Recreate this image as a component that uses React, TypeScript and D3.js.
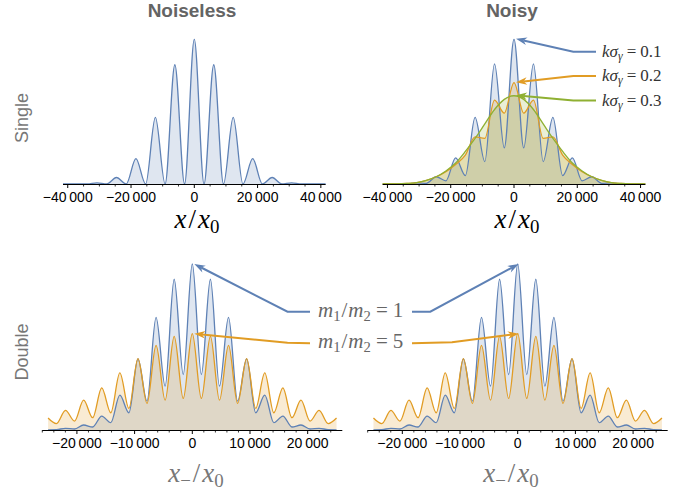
import * as d3 from 'd3';

const BLUE = '#5E81B5';
const ORANGE = '#E19C24';
const GREEN = '#8FB032';

// single-particle pattern: sampled at bright and dark fringes
const singleX = [
  -41500, -36900, -33825, -30750, -27675, -24600, -21525, -18450, -15375, -12300, -9225, -6150, -3075,
  0, 3075, 6150, 9225, 12300, 15375, 18450, 21525, 24600, 27675, 30750, 33825, 36900, 41500,
];
const noiseless = [
  0, 0.001, 0, 0.008, 0, 0.045, 0, 0.175, 0, 0.46, 0, 0.824, 0,
  1, 0, 0.824, 0, 0.46, 0, 0.175, 0, 0.045, 0, 0.008, 0, 0.001, 0,
];
const noisy01 = [
  0, 0.001, 0.001, 0.008, 0.005, 0.05, 0.022, 0.18, 0.058, 0.46, 0.155, 0.83, 0.25,
  1, 0.25, 0.83, 0.155, 0.46, 0.058, 0.18, 0.022, 0.05, 0.005, 0.008, 0.001, 0.001, 0,
];
const noisy02 = [
  0, 0.001, 0.004, 0.01, 0.025, 0.05, 0.085, 0.135, 0.2, 0.325, 0.315, 0.58, 0.49,
  0.7, 0.49, 0.58, 0.315, 0.325, 0.2, 0.135, 0.085, 0.05, 0.025, 0.01, 0.004, 0.001, 0,
];
const noisy03 = [
  0, 0.001, 0.004, 0.01, 0.025, 0.05, 0.09, 0.145, 0.225, 0.315, 0.415, 0.515, 0.585,
  0.61, 0.585, 0.515, 0.415, 0.315, 0.225, 0.145, 0.09, 0.05, 0.025, 0.01, 0.004, 0.001, 0,
];

// two-particle pattern
const doubleX = [
  -25000, -23550, -21980, -20410, -18840, -17270, -15700, -14130, -12560, -10990, -9420, -7850, -6280, -4710, -3140, -1570,
  0, 1570, 3140, 4710, 6280, 7850, 9420, 10990, 12560, 14130, 15700, 17270, 18840, 20410, 21980, 23550, 25000,
];
const ratio1 = [
  0.001, 0.002, 0.01, 0.006, 0.03, 0.018, 0.084, 0.044, 0.21, 0.104, 0.428, 0.174, 0.678, 0.264, 0.908, 0.334,
  1, 0.334, 0.908, 0.264, 0.678, 0.174, 0.428, 0.104, 0.21, 0.044, 0.084, 0.018, 0.03, 0.006, 0.01, 0.002, 0.001,
];
const ratio5 = [
  0.072, 0.038, 0.118, 0.054, 0.18, 0.074, 0.254, 0.104, 0.344, 0.13, 0.43, 0.16, 0.51, 0.18, 0.564, 0.19,
  0.58, 0.19, 0.564, 0.18, 0.51, 0.16, 0.43, 0.13, 0.344, 0.104, 0.254, 0.074, 0.18, 0.054, 0.118, 0.038, 0.072,
];

const singleTicks = [-40000, -20000, 0, 20000, 40000];
const doubleTicks = [-20000, -10000, 0, 10000, 20000];
const noisyLabels = ['0.1', '0.2', '0.3'];
const massLabels = ['1', '5'];

const fmt = (v: number) => {
  const s = d3.format(',')(Math.abs(v)).replace(/,/g, '\u2009');
  return v < 0 ? '\u2212' + s : s;
};

type Series = { xs: number[]; ys: number[]; color: string };

function Panel({ range, domain, base, top, series, ticks, minor }: any) {
  const x = d3.scaleLinear().domain(domain).range(range);
  const y = d3.scaleLinear().domain([0, 1]).range([base, top]);
  const area = d3.area<[number, number]>().x((d) => x(d[0])).y0(base).y1((d) => y(d[1])).curve(d3.curveMonotoneX);
  const line = d3.line<[number, number]>().x((d) => x(d[0])).y((d) => y(d[1])).curve(d3.curveMonotoneX);
  const pts = (s: Series) => s.xs.map((v, i) => [v, s.ys[i]] as [number, number]);
  const minors = d3.range(Math.ceil(domain[0] / minor) * minor, domain[1], minor).filter((v) => !ticks.includes(v));
  return (
    <g>
      {series.map((s: Series, i: number) => (
        <path key={'a' + i} d={area(pts(s)) || ''} fill={s.color} fillOpacity={0.2} />
      ))}
      {series.map((s: Series, i: number) => (
        <path key={'l' + i} d={line(pts(s)) || ''} fill="none" stroke={s.color} strokeWidth={1.3} />
      ))}
      <line x1={range[0]} x2={range[1]} y1={base + 0.5} y2={base + 0.5} stroke="#000" />
      {minors.map((v: number) => (
        <line key={'m' + v} x1={x(v)} x2={x(v)} y1={base} y2={base + 2.5} stroke="#000" strokeWidth={0.8} />
      ))}
      {ticks.map((v: number) => (
        <g key={'t' + v}>
          <line x1={x(v)} x2={x(v)} y1={base} y2={base + 4} stroke="#000" />
          <text x={x(v)} y={base + 18} textAnchor="middle" fontSize={14}>
            {fmt(v)}
          </text>
        </g>
      ))}
    </g>
  );
}

function Arrow({ pts, color }: { pts: [number, number][]; color: string }) {
  const tip = pts[pts.length - 1];
  const prev = pts[pts.length - 2];
  const dx = tip[0] - prev[0];
  const dy = tip[1] - prev[1];
  const len = Math.hypot(dx, dy);
  const ux = dx / len;
  const uy = dy / len;
  const L = 11;
  const W = 3.8;
  const head = [
    [tip[0], tip[1]],
    [tip[0] - L * ux + W * uy, tip[1] - L * uy - W * ux],
    [tip[0] - 0.7 * L * ux, tip[1] - 0.7 * L * uy],
    [tip[0] - L * ux - W * uy, tip[1] - L * uy + W * ux],
  ];
  const shaft = pts.slice(0, -1).concat([[tip[0] - 0.7 * L * ux, tip[1] - 0.7 * L * uy]]);
  return (
    <g>
      <path d={d3.line()(shaft) || ''} fill="none" stroke={color} strokeWidth={2} />
      <polygon points={head.map((p) => p.join(',')).join(' ')} fill={color} />
    </g>
  );
}

export default function App() {
  const topBase = 184;
  const topY1 = 39.3;
  const botBase = 430;
  const botY1 = 264;
  const yT = d3.scaleLinear().domain([0, 1]).range([topBase, topY1]);
  const yB = d3.scaleLinear().domain([0, 1]).range([botBase, botY1]);
  const xTR = d3.scaleLinear().domain([-41500, 41500]).range([382.7, 645.3]);
  const xBL = d3.scaleLinear().domain([-26000, 26000]).range([42.3, 342.3]);
  const xBR = d3.scaleLinear().domain([-26000, 26000]).range([367.7, 667.7]);
  const noisyColors = [BLUE, ORANGE, GREEN];
  const noisyPeaks = [noisy01[13], noisy02[13], noisy03[13]];
  const massColors = [BLUE, ORANGE];
  const massPeaks = [ratio1[16], ratio5[16]];
  const sub = { fontSize: '0.7em' };

  return (
    <div style={{ position: 'absolute', left: 0, top: 0 }}>
      <svg width={693} height={494} fontFamily="'Liberation Sans', Arial, sans-serif">
        <rect width={693} height={494} fill="#fff" />
        <text x={192} y={17} textAnchor="middle" fontSize={19} fontWeight="bold" fill="#646464">Noiseless</text>
        <text x={512} y={17} textAnchor="middle" fontSize={19} fontWeight="bold" fill="#646464">Noisy</text>
        <text transform="translate(28,118) rotate(-90)" textAnchor="middle" fontSize={18} fill="#777">Single</text>
        <text transform="translate(28,352) rotate(-90)" textAnchor="middle" fontSize={18} fill="#777">Double</text>

        <Panel range={[63, 325.6]} domain={[-41500, 41500]} base={topBase} top={topY1}
          series={[{ xs: singleX, ys: noiseless, color: BLUE }]} ticks={singleTicks} minor={5000} />
        <Panel range={[382.7, 645.3]} domain={[-41500, 41500]} base={topBase} top={topY1}
          series={[
            { xs: singleX, ys: noisy01, color: BLUE },
            { xs: singleX, ys: noisy02, color: ORANGE },
            { xs: singleX, ys: noisy03, color: GREEN },
          ]} ticks={singleTicks} minor={5000} />
        <Panel range={[42.3, 342.3]} domain={[-26000, 26000]} base={botBase} top={botY1}
          series={[{ xs: doubleX, ys: ratio1, color: BLUE }, { xs: doubleX, ys: ratio5, color: ORANGE }]}
          ticks={doubleTicks} minor={2000} />
        <Panel range={[367.7, 667.7]} domain={[-26000, 26000]} base={botBase} top={botY1}
          series={[{ xs: doubleX, ys: ratio1, color: BLUE }, { xs: doubleX, ys: ratio5, color: ORANGE }]}
          ticks={doubleTicks} minor={2000} />

        {/* axis labels */}
        {[197, 517].map((cx) => (
          <text key={cx} x={cx} y={228} textAnchor="middle" fontFamily="'Liberation Serif', serif" fontSize={27} fill="#000">
            <tspan fontStyle="italic">x</tspan>
            <tspan dx={2}>/</tspan>
            <tspan dx={2} fontStyle="italic">x</tspan>
            <tspan dy={5} style={sub}>0</tspan>
          </text>
        ))}
        {[196, 511].map((cx) => (
          <text key={cx} x={cx} y={482} textAnchor="middle" fontFamily="'Liberation Serif', serif" fontSize={27} fill="#777">
            <tspan fontStyle="italic">x</tspan>
            <tspan dy={5} style={sub}>{'\u2212'}</tspan>
            <tspan dy={-5} dx={2}>/</tspan>
            <tspan dx={2} fontStyle="italic">x</tspan>
            <tspan dy={5} style={sub}>0</tspan>
          </text>
        ))}

        {/* noisy annotations */}
        {noisyLabels.map((lab, i) => {
          const ly = 51.7 + i * 24.4;
          return (
            <g key={lab}>
              <Arrow color={noisyColors[i]}
                pts={[[596, ly], [573.3, ly], [xTR(0) + 2, yT(noisyPeaks[i]) - 0.5]]} />
              <text x={602} y={ly + 5} fontFamily="'Liberation Serif', serif" fontSize={17} fill="#333">
                <tspan fontStyle="italic">k</tspan>
                <tspan fontStyle="italic">σ</tspan>
                <tspan dy={3} fontStyle="italic" style={sub}>γ</tspan>
                <tspan dy={-3} dx={4}>=</tspan>
                <tspan dx={4}>{lab}</tspan>
              </text>
            </g>
          );
        })}

        {/* mass-ratio annotations */}
        {massLabels.map((lab, i) => {
          const ly = 311.7 + i * 31.6;
          return (
            <g key={lab}>
              <Arrow color={massColors[i]}
                pts={[[310, ly], [287.5, ly - 0.6 * i], [xBL(0) + 2, yB(massPeaks[i])]]} />
              <Arrow color={massColors[i]}
                pts={[[412, ly], [i === 0 ? 430.3 : 452, ly - i], [xBR(0) + 1, yB(massPeaks[i])]]} />
              <text x={318} y={ly + 5} fontFamily="'Liberation Serif', serif" fontSize={21} fill="#666">
                <tspan fontStyle="italic">m</tspan>
                <tspan dy={4} style={sub}>1</tspan>
                <tspan dy={-4} dx={1}>/</tspan>
                <tspan dx={1} fontStyle="italic">m</tspan>
                <tspan dy={4} style={sub}>2</tspan>
                <tspan dy={-4} dx={5}>=</tspan>
                <tspan dx={5}>{lab}</tspan>
              </text>
            </g>
          );
        })}
      </svg>
    </div>
  );
}
